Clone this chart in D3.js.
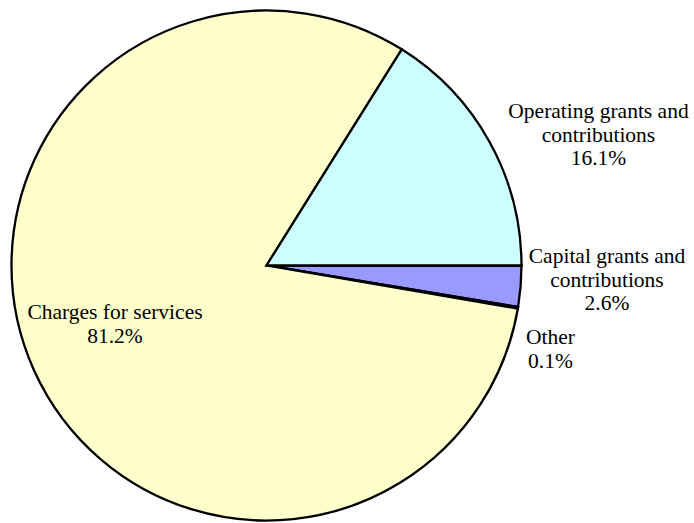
<!DOCTYPE html>
<html>
<head>
<meta charset="utf-8">
<script src="https://cdn.jsdelivr.net/npm/d3@7"></script>
<style>
  html, body { margin: 0; padding: 0; background: #ffffff; }
  svg { display: block; }
</style>
</head>
<body>
<svg id="chart" width="694" height="523"></svg>
<script>
// Revenue sources, listed clockwise starting from 3 o'clock
const categories = ["Capital grants and contributions", "Other", "Charges for services", "Operating grants and contributions"];
const shares = [2.6, 0.1, 81.2, 16.1];
const sliceColors = ["#9999ff", "#993366", "#ffffcc", "#ccffff"];
const labelLines = [
  ["Capital grants and", "contributions", "2.6%"],
  ["Other", "0.1%"],
  ["Charges for services", "81.2%"],
  ["Operating grants and", "contributions", "16.1%"]
];

const width = 694, height = 523;
const cx = 266.5, cy = 265.5, radius = 255;

const svg = d3.select("#chart");
const g = svg.append("g").attr("transform", `translate(${cx},${cy})`);

const pie = d3.pie()
  .sort(null)
  .value(d => d)
  .startAngle(Math.PI / 2)
  .endAngle(Math.PI / 2 + 2 * Math.PI);

const arc = d3.arc().innerRadius(0).outerRadius(radius);
const arcs = pie(shares);

const color = d3.scaleOrdinal().domain(categories).range(sliceColors);

g.selectAll("path.slice")
  .data(arcs)
  .join("path")
  .attr("class", "slice")
  .attr("d", arc)
  .attr("fill", (d, i) => color(categories[i]))
  .attr("stroke", "#000")
  .attr("stroke-width", 2.3)
  .attr("stroke-linejoin", "miter");

// Label placement (anchor x, first baseline y) for each slice
const labelPos = [
  [607, 263],
  [550.5, 344],
  [115, 319],
  [598.5, 118]
];
const lineStep = 23.7;

const labels = svg.selectAll("text.label")
  .data(labelLines)
  .join("text")
  .attr("class", "label")
  .attr("font-family", "'Liberation Serif', 'Times New Roman', Times, serif")
  .attr("font-size", 21.5)
  .attr("fill", "#000")
  .attr("text-anchor", "middle");

labels.each(function(lines, i) {
  const t = d3.select(this);
  lines.forEach((line, j) => {
    t.append("tspan")
      .attr("x", labelPos[i][0])
      .attr("y", labelPos[i][1] + j * lineStep)
      .text(line);
  });
});
</script>
</body>
</html>
